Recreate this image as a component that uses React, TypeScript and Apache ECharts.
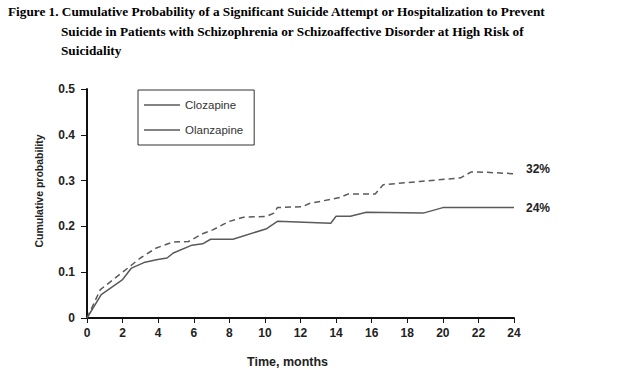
import React, { useEffect, useRef } from "react";
import * as echarts from "echarts";

const titleLines = [
  "Figure 1. Cumulative Probability of a Significant Suicide Attempt or Hospitalization to Prevent",
  "Suicide in Patients with Schizophrenia or Schizoaffective Disorder at High Risk of",
  "Suicidality",
];

const seriesNames = ["Clozapine", "Olanzapine"];
const endLabels = ["24%", "32%"];

const clozMonths = [0, 0.8, 2.0, 2.5, 3.2, 3.9, 4.5, 4.85, 5.9, 6.5, 6.95, 8.2, 10.1, 10.7, 13.7, 14.0, 14.8, 15.7, 18.9, 20.0, 24];
const clozProb = [0, 0.051, 0.084, 0.109, 0.121, 0.127, 0.131, 0.142, 0.159, 0.162, 0.172, 0.172, 0.195, 0.211, 0.207, 0.222, 0.222, 0.231, 0.229, 0.241, 0.241];

const olanMonths = [0, 0.75, 2.0, 3.0, 3.9, 4.85, 5.7, 6.5, 7.1, 8.0, 8.8, 10.1, 10.5, 10.7, 12.1, 12.5, 14.2, 14.7, 16.2, 16.65, 18.7, 21.0, 21.6, 22.5, 24];
const olanProb = [0, 0.062, 0.1, 0.131, 0.153, 0.166, 0.167, 0.184, 0.193, 0.211, 0.22, 0.222, 0.229, 0.241, 0.243, 0.25, 0.263, 0.271, 0.271, 0.291, 0.298, 0.306, 0.319, 0.318, 0.315];

const xTicks = [0, 2, 4, 6, 8, 10, 12, 14, 16, 18, 20, 22, 24];
const yTicks = ["0", "0.1", "0.2", "0.3", "0.4", "0.5"];

const sans = "'Liberation Sans', Arial, sans-serif";
const narrow = "'Liberation Sans Narrow', 'Arial Narrow', 'Liberation Sans', sans-serif";
const serif = "'Liberation Serif', 'Times New Roman', serif";

export default function App() {
  const ref = useRef<HTMLDivElement>(null);
  useEffect(() => {
    if (!ref.current) return;
    const chart = echarts.init(ref.current, undefined, { renderer: "svg" });
    const toPairs = (xs: number[], ys: number[]) => xs.map((x, i) => [x, ys[i]]);
    const lineColor = "#5a5a5a";
    const endLabelStyle = {
      show: true,
      fontFamily: sans,
      fontWeight: "bold" as const,
      fontSize: 12,
      color: "#222",
      distance: 12,
    };
    chart.setOption({
      animation: false,
      backgroundColor: "#fff",
      title: titleLines.map((t, i) => ({
        text: t,
        left: i === 0 ? 8 : 61,
        top: 5 + i * 19.5,
        padding: 0,
        textStyle: {
          fontFamily: serif,
          fontWeight: "bold",
          fontSize: 13.25,
          color: "#000",
        },
      })),
      legend: {
        show: true,
        left: 138,
        top: 90,
        orient: "vertical",
        borderColor: "#333",
        borderWidth: 1,
        padding: [8, 11, 8, 6],
        icon: "rect",
        itemWidth: 36,
        itemHeight: 1.5,
        itemGap: 11,
        itemStyle: { color: lineColor, borderWidth: 0 },
        textStyle: { fontFamily: sans, fontSize: 11.5, color: "#333", lineHeight: 14 },
        data: seriesNames.map((n) => ({
          name: n,
          icon: "rect",
          itemStyle: { color: lineColor, borderWidth: 0 },
        })),
      },
      grid: { left: 87, right: 117, top: 89, bottom: 60, containLabel: false },
      xAxis: {
        type: "value",
        min: 0,
        max: 24,
        interval: 2,
        axisLine: { show: true, lineStyle: { color: "#111", width: 2 } },
        axisTick: { show: true, length: 5, lineStyle: { color: "#111", width: 1 } },
        axisLabel: {
          fontFamily: sans,
          fontWeight: "bold",
          fontSize: 12,
          color: "#222",
          margin: 9,
          formatter: (v: number) => (xTicks.includes(v) ? String(v) : ""),
        },
        splitLine: { show: false },
      },
      yAxis: {
        type: "value",
        min: 0,
        max: 0.5,
        interval: 0.1,
        axisLine: { show: true, lineStyle: { color: "#111", width: 2 } },
        axisTick: { show: true, length: 6, lineStyle: { color: "#111", width: 1 } },
        axisLabel: {
          fontFamily: sans,
          fontWeight: "bold",
          fontSize: 12,
          color: "#222",
          margin: 12,
          formatter: (v: number) => yTicks[Math.round(v * 10)] ?? "",
        },
        splitLine: { show: false },
      },
      graphic: [
        {
          type: "text",
          left: 247,
          top: 355,
          style: {
            text: "Time, months",
            fontFamily: sans,
            fontWeight: "bold",
            fontSize: 12.5,
            fill: "#222",
          },
        },
        {
          type: "text",
          x: 39,
          y: 191,
          rotation: Math.PI / 2,
          style: {
            text: "Cumulative probability",
            fontFamily: narrow,
            fontWeight: "bold",
            fontSize: 10.5,
            fill: "#222",
            align: "center",
            verticalAlign: "middle",
          },
        },
      ],
      series: [
        {
          name: seriesNames[0],
          type: "line",
          data: toPairs(clozMonths, clozProb),
          symbol: "none",
          lineStyle: { color: lineColor, width: 1.5, type: "solid" },
          itemStyle: { color: lineColor },
          endLabel: { ...endLabelStyle, formatter: endLabels[0] },
        },
        {
          name: seriesNames[1],
          type: "line",
          data: toPairs(olanMonths, olanProb),
          symbol: "none",
          lineStyle: { color: lineColor, width: 1.5, type: [6, 4] },
          itemStyle: { color: lineColor },
          endLabel: { ...endLabelStyle, formatter: endLabels[1], offset: [0, -5] },
        },
      ],
    });
    return () => chart.dispose();
  }, []);
  return (
    <div
      ref={ref}
      style={{ position: "fixed", left: 0, top: 0, width: 631, height: 378 }}
    />
  );
}
